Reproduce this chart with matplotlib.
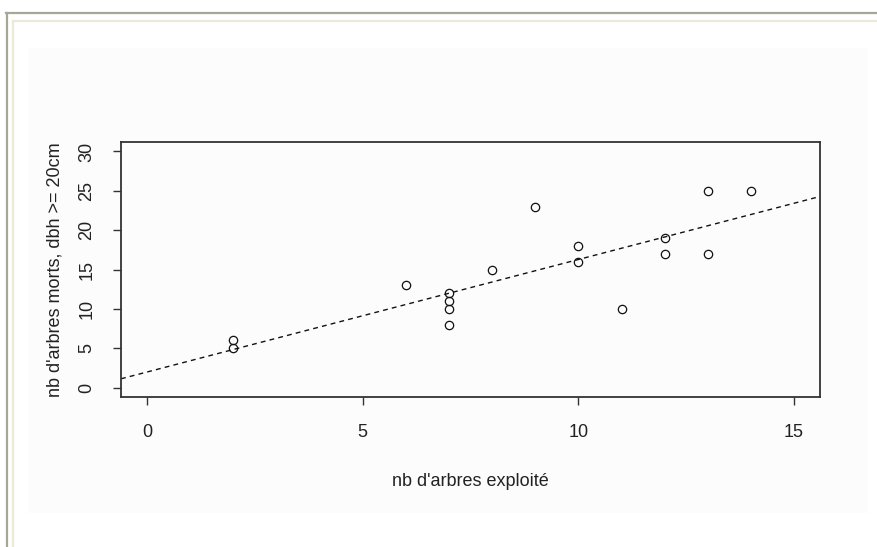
import matplotlib.pyplot as plt
from matplotlib.patches import Rectangle
from matplotlib.lines import Line2D

# data
trees_cut = [2, 2, 6, 7, 7, 7, 7, 8, 9, 10, 10, 11, 12, 12, 13, 13, 14]
dead_trees = [5, 6, 13, 8, 10, 11, 12, 15, 23, 16, 18, 10, 17, 19, 17, 25, 25]

# regression line (abline)
intercept = 1.97
slope = 1.43

x_ticks = [0, 5, 10, 15]
y_ticks = [0, 5, 10, 15, 20, 25, 30]

plt.rcParams['font.family'] = ['Liberation Sans', 'DejaVu Sans']

W, H = 877, 547
fig = plt.figure(figsize=(W / 100, H / 100), dpi=100)
fig.patch.set_facecolor('white')

# ==================== window frame of the screenshot ====================
def px_x(x):
    return x / W

def px_y(y):
    return 1 - y / H

fig.add_artist(Rectangle((px_x(28), px_y(513)), px_x(868) - px_x(28), px_y(48) - px_y(513),
                         transform=fig.transFigure, facecolor='#fcfcfc', edgecolor='none', zorder=0))
fig.add_artist(Line2D([px_x(6), 1], [px_y(13), px_y(13)], transform=fig.transFigure,
                      color='#a8a697', linewidth=1.6))
fig.add_artist(Line2D([px_x(7), px_x(7)], [px_y(13), 0], transform=fig.transFigure,
                      color='#a8a697', linewidth=1.6))
fig.add_artist(Line2D([px_x(13), 1], [px_y(21), px_y(21)], transform=fig.transFigure,
                      color='#ece9d8', linewidth=1.6))
fig.add_artist(Line2D([px_x(13), px_x(13)], [px_y(21), 0], transform=fig.transFigure,
                      color='#ece9d8', linewidth=1.6))

# ==================== plot region ====================
ax = fig.add_axes([121 / W, 1 - 397 / H, 699 / W, 255 / H])
ax.patch.set_alpha(0)

ax.plot(trees_cut, dead_trees, linestyle='none', marker='o', markersize=6,
        markerfacecolor='none', markeredgecolor='#111111', markeredgewidth=0.9)
ax.axline((0, intercept), slope=slope, color='#111111', linewidth=1.0,
          linestyle=(0, (3.5, 3)))

# R style limits: range extended by 4 %
ax.set_xlim(-0.6, 15.6)
ax.set_ylim(-1.2, 31.2)
ax.set_xticks(x_ticks)
ax.set_yticks(y_ticks)
ax.set_xticklabels([str(v) for v in x_ticks])
ax.set_yticklabels([str(v) for v in y_ticks], rotation=90, va='center')

for s in ax.spines.values():
    s.set_color('#333333')
    s.set_linewidth(1.3)
ax.tick_params(axis='both', direction='out', length=5.5, width=1.0, color='#333333',
               labelsize=13, labelcolor='#222222')
ax.tick_params(axis='x', pad=14)
ax.tick_params(axis='y', pad=13)

ax.set_xlabel("nb d'arbres exploité", fontsize=13, color='#222222')
ax.xaxis.label.set_va('center')
ax.xaxis.set_label_coords(0.5, (397 - 482) / 255)
ax.set_ylabel("nb d'arbres morts, dbh >= 20cm", fontsize=13, color='#222222')
ax.yaxis.label.set_va('center')
ax.yaxis.set_label_coords((55 - 121) / 699, 0.5)

plt.savefig('out.png', dpi=100)
